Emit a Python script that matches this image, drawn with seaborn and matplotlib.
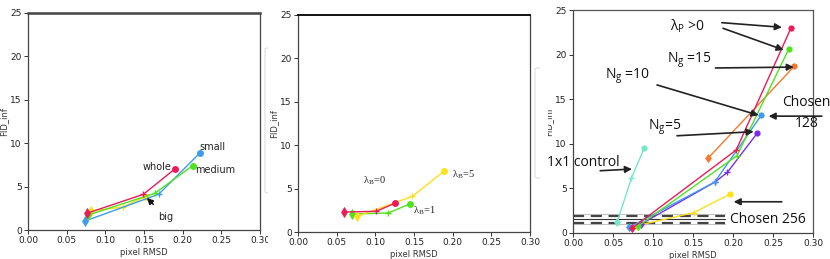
import matplotlib
matplotlib.use("Agg")
import matplotlib.pyplot as plt
import seaborn as sns
from matplotlib.transforms import Bbox, TransformedBbox
from matplotlib.patches import FancyBboxPatch

# ---------------- data ----------------
# panel 1 (patch size)
p1_whole_x = [0.076, 0.149, 0.190]
p1_whole_y = [1.92, 4.10, 7.04]
p1_medium_x = [0.078, 0.164, 0.213]
p1_medium_y = [1.73, 4.23, 7.42]
p1_small_x = [0.074, 0.169, 0.222]
p1_small_y = [1.04, 4.12, 8.85]
p1_big_x = [0.081, 0.123, 0.152]
p1_big_y = [2.19, 2.65, 3.85]
p1_labels = ["whole", "medium", "small", "big"]

# panel 2 (lambda_B)
p2_b0_x = [0.059, 0.101, 0.126]
p2_b0_y = [2.30, 2.38, 3.34]
p2_b1_x = [0.070, 0.1165, 0.1446]
p2_b1_y = [2.07, 2.19, 3.23]
p2_b5_x = [0.0764, 0.148, 0.189]
p2_b5_y = [1.80, 4.11, 7.03]
p2_labels = [r"$\mathregular{\lambda_B}$=0", r"$\mathregular{\lambda_B}$=1", r"$\mathregular{\lambda_B}$=5"]

# panel 3 (N_g, lambda_P, controls)
p3_red_x = [0.074, 0.204, 0.2725]
p3_red_y = [0.55, 9.30, 22.99]
p3_green_x = [0.081, 0.205, 0.270]
p3_green_y = [0.75, 8.67, 20.67]
p3_orange_x = [0.169, 0.2767]
p3_orange_y = [8.40, 18.70]
p3_blue_x = [0.070, 0.177, 0.2354]
p3_blue_y = [0.63, 5.70, 13.20]
p3_purple_x = [0.085, 0.178, 0.193, 0.230]
p3_purple_y = [1.00, 5.75, 6.80, 11.16]
p3_teal_x = [0.055, 0.073, 0.0888]
p3_teal_y = [1.19, 6.12, 9.48]
p3_yellow_x = [0.080, 0.1508, 0.1966]
p3_yellow_y = [0.82, 2.28, 4.37]
p3_ref_dashed_y = [1.88, 1.15]
p3_ref_solid_y = [1.55]
p3_ref_light_y = [2.08, 1.00]
p3_ref_xmax = 0.19

x_ticks = [0.00, 0.05, 0.10, 0.15, 0.20, 0.25, 0.30]
x_ticklabels = ["0.00", "0.05", "0.10", "0.15", "0.20", "0.25", "0.30"]
y_ticks = [0, 5, 10, 15, 20, 25]

RED = "#ec1a5a"
GREEN = "#4fe31c"
BLUE = "#3c9cf0"
YELLOW = "#ffe01c"
ORANGE = "#f5792c"
PURPLE = "#7a2df0"
TEAL = "#74e8c8"

# ---------------- figure ----------------
W, H = 830, 259
sns.set_style("ticks")
plt.rcParams["font.family"] = ["DejaVu Sans"]
plt.rcParams["mathtext.default"] = "regular"

fig = plt.figure(figsize=(W / 100, H / 100), dpi=100)


def px_axes(l, r, t, b):
    return fig.add_axes([l / W, 1 - b / H, (r - l) / W, (b - t) / H])


def clip_x(artist, x0, x1):
    bb = TransformedBbox(Bbox.from_extents(x0 / W, 0, x1 / W, 1), fig.transFigure)
    artist.set_clip_box(bb)
    artist.set_clip_on(True)


ax1 = px_axes(28, 260, 13, 230)
ax2 = px_axes(298, 530, 15, 232)
ax3 = px_axes(573, 813, 10, 233)


def series(ax, xs, ys, color, ms=5):
    sns.lineplot(x=xs, y=ys, ax=ax, color=color, lw=1.0, sort=False, estimator=None)
    n = len(xs)
    for i, (x, y) in enumerate(zip(xs, ys)):
        if i == 0:
            ax.plot(x, y, marker="d", color=color, ms=ms, mew=0.5)
        elif i == n - 1:
            ax.plot(x, y, marker="o", color=color, ms=ms, mew=0)
        else:
            ax.plot(x, y, marker="+", color=color, ms=ms, mew=1.0)


for ax in (ax1, ax2, ax3):
    ax.set_xlim(0, 0.30)
    ax.set_ylim(0, 25)
    ax.set_xticks(x_ticks)
    ax.set_xticklabels(x_ticklabels)
    ax.set_yticks(y_ticks)
    ax.tick_params(labelsize=6.5, length=3, width=0.7, color="#333333", pad=1.5, labelcolor="#222222")
    for s in ax.spines.values():
        s.set_color("#444444")
        s.set_linewidth(0.9)
    ax.set_xlabel("pixel RMSD", fontsize=6, color="#333333", labelpad=2)
    ax.set_ylabel("FID_inf", fontsize=6, color="#333333")

ax1.spines["top"].set_linewidth(1.8)
ax2.spines["top"].set_linewidth(1.4)
ax2.spines["top"].set_color("#111111")
ax3.spines["top"].set_color("#555555")
ax3.spines["right"].set_color("#555555")

ax1.yaxis.set_label_coords(-0.086, 0.5)
ax2.yaxis.set_label_coords(-0.086, 0.5)
ax3.yaxis.set_label_coords(-0.083, 0.5)

# ---------------- panel 1 ----------------
series(ax1, p1_big_x, p1_big_y, YELLOW)
series(ax1, p1_small_x, p1_small_y, BLUE)
series(ax1, p1_medium_x, p1_medium_y, GREEN)
series(ax1, p1_whole_x, p1_whole_y, RED)
lab_kw = dict(fontsize=7, color="#222222", va="center")
ax1.text(0.186, 7.26, p1_labels[0], ha="right", **lab_kw)
ax1.text(0.216, 6.9, p1_labels[1], ha="left", **lab_kw)
ax1.text(0.221, 9.56, p1_labels[2], ha="left", **lab_kw)
ax1.annotate(p1_labels[3], xy=(0.1538, 3.69), xytext=(0.168, 1.55), ha="left", va="center",
             fontsize=7, color="#222222",
             arrowprops=dict(arrowstyle="-|>", color="#111111", lw=1.1, mutation_scale=9,
                             shrinkA=4, shrinkB=0))

# ---------------- panel 2 ----------------
series(ax2, p2_b1_x, p2_b1_y, GREEN)
series(ax2, p2_b5_x, p2_b5_y, YELLOW)
series(ax2, p2_b0_x, p2_b0_y, RED)
serif_kw = dict(fontsize=7.5, color="#222222", va="center", ha="left", family=["Liberation Serif"])
ax2.text(0.084, 5.9, p2_labels[0], **serif_kw)
ax2.text(0.149, 2.4, p2_labels[1], **serif_kw)
ax2.text(0.199, 6.6, p2_labels[2], **serif_kw)

# ---------------- panel 3 ----------------
for yv in p3_ref_light_y:
    ax3.plot([0, p3_ref_xmax], [yv, yv], color="#c4c4c4", lw=0.8)
for yv in p3_ref_dashed_y:
    ax3.plot([0, p3_ref_xmax], [yv, yv], color="#444444", lw=1.6, ls=(0, (5, 3)))
for yv in p3_ref_solid_y:
    ax3.plot([0, p3_ref_xmax], [yv, yv], color="#333333", lw=0.8)

series(ax3, p3_teal_x, p3_teal_y, TEAL, ms=4.5)
series(ax3, p3_yellow_x, p3_yellow_y, YELLOW, ms=4.5)
series(ax3, p3_orange_x, p3_orange_y, ORANGE, ms=4.5)
series(ax3, p3_purple_x, p3_purple_y, PURPLE, ms=4.5)
series(ax3, p3_blue_x, p3_blue_y, BLUE, ms=4.5)
series(ax3, p3_green_x, p3_green_y, GREEN, ms=4.5)
series(ax3, p3_red_x, p3_red_y, RED, ms=4.5)

ann_font = ["Open Sans", "DejaVu Sans"]
FS = 10
txt_kw = dict(fontsize=FS, color="#111111", family=ann_font)
arr = dict(arrowstyle="-|>", color="#222222", lw=1.2, mutation_scale=10, shrinkA=0, shrinkB=0)


def arrow(ax, tail, head):
    ax.annotate("", xy=head, xytext=tail, arrowprops=arr, annotation_clip=False)


ax3.text(0.121, 23.2, r"$\mathregular{\lambda_P}$ >0", ha="left", va="center", **txt_kw)
arrow(ax3, (0.186, 23.58), (0.2611, 23.06))
arrow(ax3, (0.1875, 22.95), (0.2633, 20.52))

ax3.text(0.118, 19.4, r"$\mathregular{N_g}$ =15", ha="left", va="center", **txt_kw)
arrow(ax3, (0.178, 18.5), (0.276, 18.6))

ax3.text(0.040, 17.6, r"$\mathregular{N_g}$ =10", ha="left", va="center", **txt_kw)
arrow(ax3, (0.105, 16.6), (0.232, 13.2))

ax3.text(0.094, 11.9, r"$\mathregular{N_g}$=5", ha="left", va="center", **txt_kw)
arrow(ax3, (0.130, 10.9), (0.2258, 11.36))

t = ax3.text(0.2616, 13.45, "Chosen\n128", ha="left", va="center", multialignment="center",
             linespacing=1.55, **txt_kw)
t.set_clip_on(False)
arrow(ax3, (0.311, 13.1), (0.2445, 13.1))

ax3.text(-0.032, 7.9, "1x1 control", ha="left", va="center", **txt_kw)
arrow(ax3, (0.034, 6.98), (0.0737, 7.17))

ax3.text(0.1966, 1.46, "Chosen 256", ha="left", va="center", **txt_kw)
arrow(ax3, (0.261, 3.5), (0.2008, 3.5))

# ---------------- crop effects of the composite ----------------
for lab in ax1.get_xticklabels():
    clip_x(lab, 0, 268)
clip_x(ax3.yaxis.label, 548, W)

for (l, t_, r, b, cl) in [(265, 48, 300, 193, 268), (535, 68, 570, 178, 540)]:
    p = FancyBboxPatch((l / W, 1 - b / H), (r - l) / W, (b - t_) / H,
                       boxstyle="round,pad=0,rounding_size=0.004",
                       transform=fig.transFigure, fc="none", ec="#dedede", lw=0.8, zorder=-1)
    fig.add_artist(p)
    clip_x(p, 0, cl)

fig.savefig("out.png", dpi=100)
